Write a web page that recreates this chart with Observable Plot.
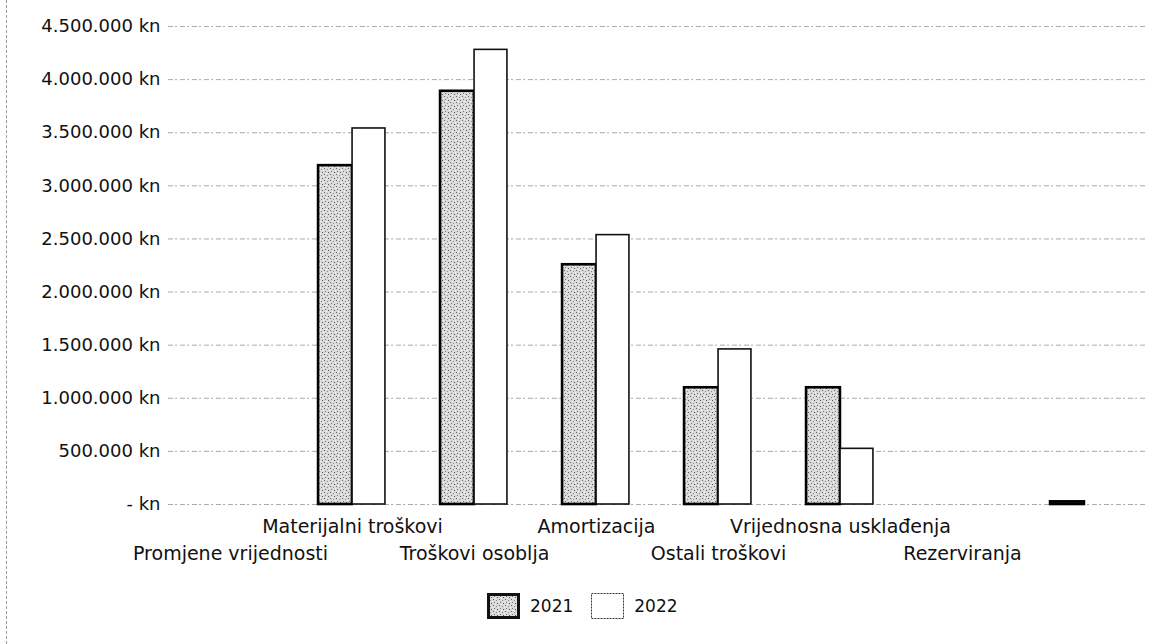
<!DOCTYPE html>
<html>
<head>
<meta charset="utf-8">
<script src="https://cdn.jsdelivr.net/npm/d3@7"></script>
<script src="https://cdn.jsdelivr.net/npm/@observablehq/plot@0.6"></script>
<style>
  html, body { margin: 0; padding: 0; background: #fff; }
  body { width: 1154px; height: 644px; position: relative; overflow: hidden; font-family: "DejaVu Sans", sans-serif; }
  #frame { position: absolute; left: 6px; top: 0; width: 0; height: 644px; border-left: 1px dashed #999; }
  #chart { position: absolute; left: 0; top: 0; }
  #legend { position: absolute; left: 487px; top: 593px; display: flex; align-items: center; font-size: 17px; color: #111; }
  #legend .sw { width: 33px; height: 26px; box-sizing: border-box; }
  #legend .lab { margin-left: 10px; margin-right: 18px; }
</style>
</head>
<body>
<div id="frame"></div>
<div id="chart"></div>
<div id="legend"></div>
<script>
// Categories (the last one has no visible label in the reference)
const categories = [
  "Promjene vrijednosti",
  "Materijalni troškovi",
  "Troškovi osoblja",
  "Amortizacija",
  "Ostali troškovi",
  "Vrijednosna usklađenja",
  "Rezerviranja",
  " "
];
const years = ["2021", "2022"];
const values2021 = [0, 3190000, 3890000, 2257000, 1099000, 1099000, 0, 25000];
const values2022 = [0, 3540000, 4280000, 2536000, 1460000, 524000, 0, 0];
const yTicks = [0, 500000, 1000000, 1500000, 2000000, 2500000, 3000000, 3500000, 4000000, 4500000];

const rows = [];
categories.forEach((c, i) => {
  rows.push({category: c, year: "2021", value: values2021[i]});
  rows.push({category: c, year: "2022", value: values2022[i]});
});

const fmt = v => v === 0 ? "- kn" : d3.format(",")(v).replace(/,/g, ".") + " kn";
const row1 = categories.filter((c, i) => i % 2 === 1 && c.trim() !== "");
const row2 = categories.filter((c, i) => i % 2 === 0 && c.trim() !== "");

const W = 1154, ML = 168, MR = 9;
const band = (W - ML - MR) / categories.length;
const barW = 34;

const chart = Plot.plot({
  width: W,
  height: 580,
  marginTop: 26,
  marginBottom: 76,
  marginLeft: ML,
  marginRight: MR,
  style: {fontFamily: "DejaVu Sans, sans-serif", color: "#111", background: "transparent"},
  x: {domain: categories, padding: 0, axis: null},
  y: {domain: [0, 4500000], axis: null},
  marks: [
    Plot.gridY(yTicks, {stroke: "#555", strokeOpacity: 0.5, strokeDasharray: "5,2,2,3", strokeWidth: 1}),
    Plot.barY(rows.filter(d => d.year === "2021" && d.value !== 0), {
      x: "category", y: "value",
      insetLeft: band / 2 - barW, insetRight: band / 2,
      fill: "url(#stipple)", stroke: "#000", strokeWidth: 2.6
    }),
    Plot.barY(rows.filter(d => d.year === "2022" && d.value !== 0), {
      x: "category", y: "value",
      insetLeft: band / 2, insetRight: band / 2 - barW + 1,
      fill: "#fff", stroke: "#111", strokeWidth: 1.6
    }),
    Plot.axisY(yTicks, {tickFormat: fmt, tickSize: 0, tickPadding: 8, fontSize: 18, label: null}),
    Plot.axisX(row1, {tickSize: 0, tickPadding: 15, fontSize: 19, label: null}),
    Plot.axisX(row2, {tickSize: 0, tickPadding: 42, fontSize: 19, label: null})
  ]
});

// stipple texture for the 2021 bars
const ns = "http://www.w3.org/2000/svg";
const defs = document.createElementNS(ns, "defs");
defs.innerHTML = `
  <pattern id="stipple" width="6" height="6" patternUnits="userSpaceOnUse">
    <rect width="6" height="6" fill="#dadada"/>
    <rect x="0" y="0" width="1" height="1" fill="#666"/>
    <rect x="3" y="1" width="1" height="1" fill="#8a8a8a"/>
    <rect x="1" y="3" width="1" height="1" fill="#777"/>
    <rect x="4" y="4" width="1" height="1" fill="#555"/>
    <rect x="5" y="2" width="1" height="1" fill="#f2f2f2"/>
    <rect x="2" y="5" width="1" height="1" fill="#f5f5f5"/>
  </pattern>`;
chart.insertBefore(defs, chart.firstChild);
document.getElementById("chart").appendChild(chart);

// legend
const legend = document.getElementById("legend");
years.forEach((y, i) => {
  const sw = document.createElement("div");
  sw.className = "sw";
  const rect = i === 0
    ? '<rect x="1.5" y="1.5" width="30" height="23" fill="url(#stipple)" stroke="#111" stroke-width="3"/>'
    : '<rect x="0.5" y="0.5" width="32" height="25" fill="#fff" stroke="#333" stroke-width="1" stroke-dasharray="2,1"/>';
  sw.innerHTML = `<svg width="33" height="26">${rect}</svg>`;
  const lab = document.createElement("span");
  lab.className = "lab";
  lab.textContent = y;
  legend.appendChild(sw);
  legend.appendChild(lab);
});
</script>
</body>
</html>
